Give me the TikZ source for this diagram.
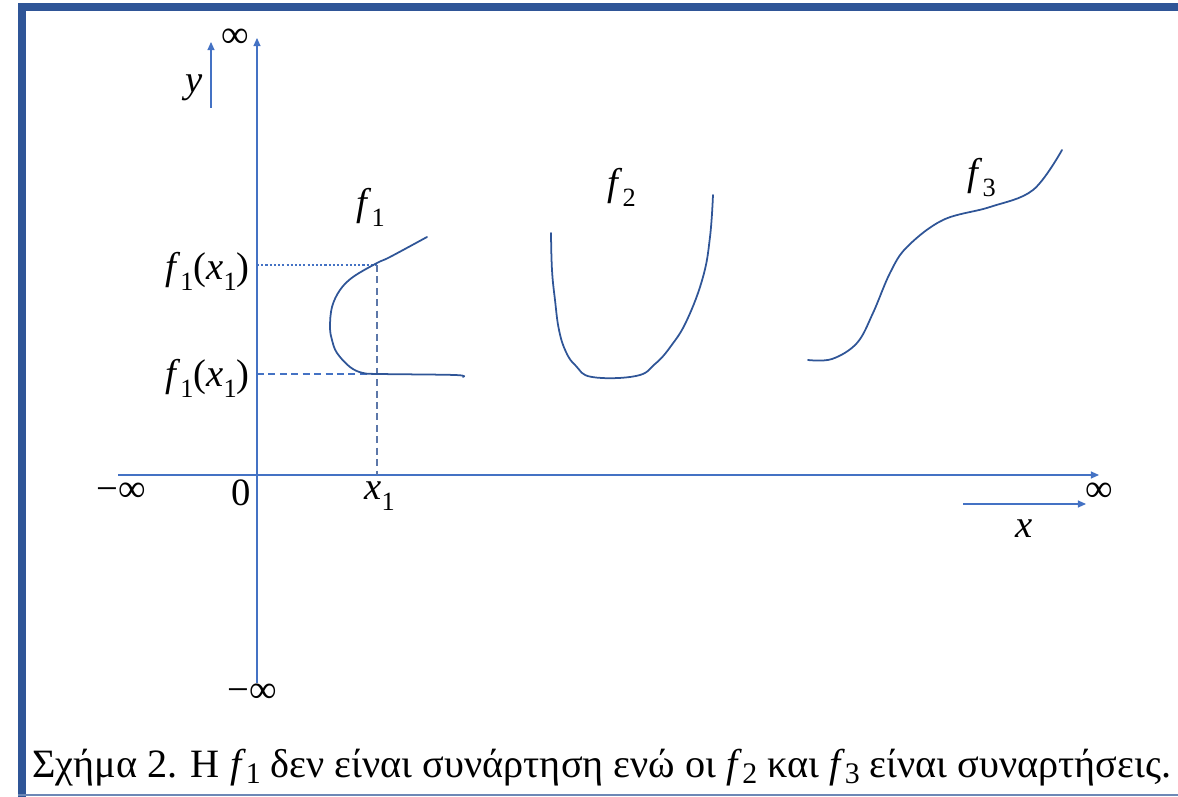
\documentclass[tikz,border=0pt]{standalone}
\usepackage{fontspec}
\setmainfont{Liberation Serif}
\usetikzlibrary{arrows.meta}
\definecolor{frameblue}{HTML}{2F5597}
\definecolor{axisblue}{HTML}{4472C4}
\definecolor{curveblue}{HTML}{2F5597}
\newcommand{\fnsub}[2]{\textit{#1}\raisebox{-0.28em}{\fontsize{15}{15}\selectfont #2}}
\newcommand{\capsub}[1]{\raisebox{-0.15em}{\fontsize{17}{17}\selectfont #1}}
\tikzset{
  fnframe/.style={fill=frameblue, draw=none},
  fnbase/.style={line width=1.1pt, draw=frameblue!70},
  fnaxis/.style={line width=0.6pt, draw=axisblue, -{Triangle[length=4.6pt,width=4pt]}},
  fnline/.style={line width=0.6pt, draw=axisblue},
  fndot/.style={line width=0.6pt, draw=axisblue, dash pattern=on 1.2pt off 1.2pt},
  fndash/.style={line width=0.6pt, draw=axisblue, dash pattern=on 4pt off 2.5pt},
  fnvdash/.style={line width=0.6pt, draw=axisblue!60!gray, dash pattern=on 4pt off 2.5pt},
  fncurve/.style={line width=1pt, draw=curveblue, line cap=round, line join=round},
  fnlabel/.style={inner sep=0pt, font=\fontsize{22}{26}\selectfont},
  fncaption/.style={inner sep=0pt, font=\fontsize{22.9}{27}\selectfont},
}
\begin{document}
\begin{tikzpicture}[x=0.02cm, y=-0.02cm]
\useasboundingbox (0,0) rectangle (1178,797);
% frame
\fill[fnframe] (18,3) rectangle (1178,11);
\fill[fnframe] (18,3) rectangle (26,797);
\draw[fnbase] (18,795) -- (1178,795);
% axes
\coordinate (yaxbot) at (257,683);
\coordinate (yaxtop) at (257,38);
\coordinate (xaxl) at (118,475);
\coordinate (xaxr) at (1099,475);
\coordinate (ydirlo) at (211,108);
\coordinate (ydirhi) at (211,42);
\coordinate (xdirl) at (963,504);
\coordinate (xdirr) at (1086,504);
\draw[fnaxis] (yaxbot) -- (yaxtop);
\draw[fnaxis] (xaxl) -- (xaxr);
\draw[fnaxis] (ydirlo) -- (ydirhi);
\draw[fnaxis] (xdirl) -- (xdirr);
% guides for x1
\coordinate (yupper) at (257,265);
\coordinate (pupper) at (377,265);
\coordinate (ylower) at (257,374);
\coordinate (plower) at (377,374);
\coordinate (xone) at (377,475);
\draw[fndot] (yupper) -- (pupper);
\draw[fndash] (ylower) -- (plower);
\draw[fnvdash] (pupper) -- (xone);
% curves
\draw[fncurve] plot[smooth, tension=0.6] coordinates {(427,237) (390,257) (377,263) (353,277) (340,290) (332,307) (330,327) (332,340) (337,353) (350,367) (363,373) (380,374) (455,375) (463,377)};
\draw[fncurve] plot[smooth, tension=0.7] coordinates {(551,233) (552,270) (555,300) (559,330) (566,352) (576,366) (592,377) (636,376) (655,364) (671,346) (687,320) (703,277) (710,237) (713,195)};
\draw[fncurve] plot[smooth, tension=0.6] coordinates {(808,360) (832,359) (857,343) (873,313) (890,273) (907,247) (943,220) (990,207) (1033,190) (1062,150)};
% labels
\node[fnlabel, anchor=base west] (inftop) at (221,48) {∞};
\node[fnlabel, anchor=base west] (ylab) at (185,93) {\textit{y}};
\node[fnlabel, anchor=base west] (infleft) at (96,502) {−∞};
\node[fnlabel, anchor=base west] (zero) at (231,506) {0};
\node[fnlabel, anchor=base west] (xonelab) at (364,500) {\fnsub{x}{1}};
\node[fnlabel, anchor=base west] (infbot) at (227,703) {−∞};
\node[fnlabel, anchor=base west] (infright) at (1085,502) {∞};
\node[fnlabel, anchor=base west] (xlab) at (1015,538) {\textit{x}};
\node[fnlabel, anchor=base east] (fxupper) at (250,280) {\fnsub{f}{1}(\fnsub{x}{1})};
\node[fnlabel, anchor=base east] (fxlower) at (250,387) {\fnsub{f}{1}(\fnsub{x}{1})};
\node[fnlabel, anchor=base west] (fone) at (356,216) {\fnsub{f}{1}};
\node[fnlabel, anchor=base west] (ftwo) at (607,196) {\fnsub{f}{2}};
\node[fnlabel, anchor=base west] (fthree) at (967,186) {\fnsub{f}{3}};
\node[fncaption, anchor=base west] (caption) at (32,777) {Σχήμα 2. Η \textit{f}\capsub{1} δεν είναι συνάρτηση ενώ οι \textit{f}\capsub{2} και \textit{f}\capsub{3} είναι συναρτήσεις.};
\end{tikzpicture}
\end{document}
